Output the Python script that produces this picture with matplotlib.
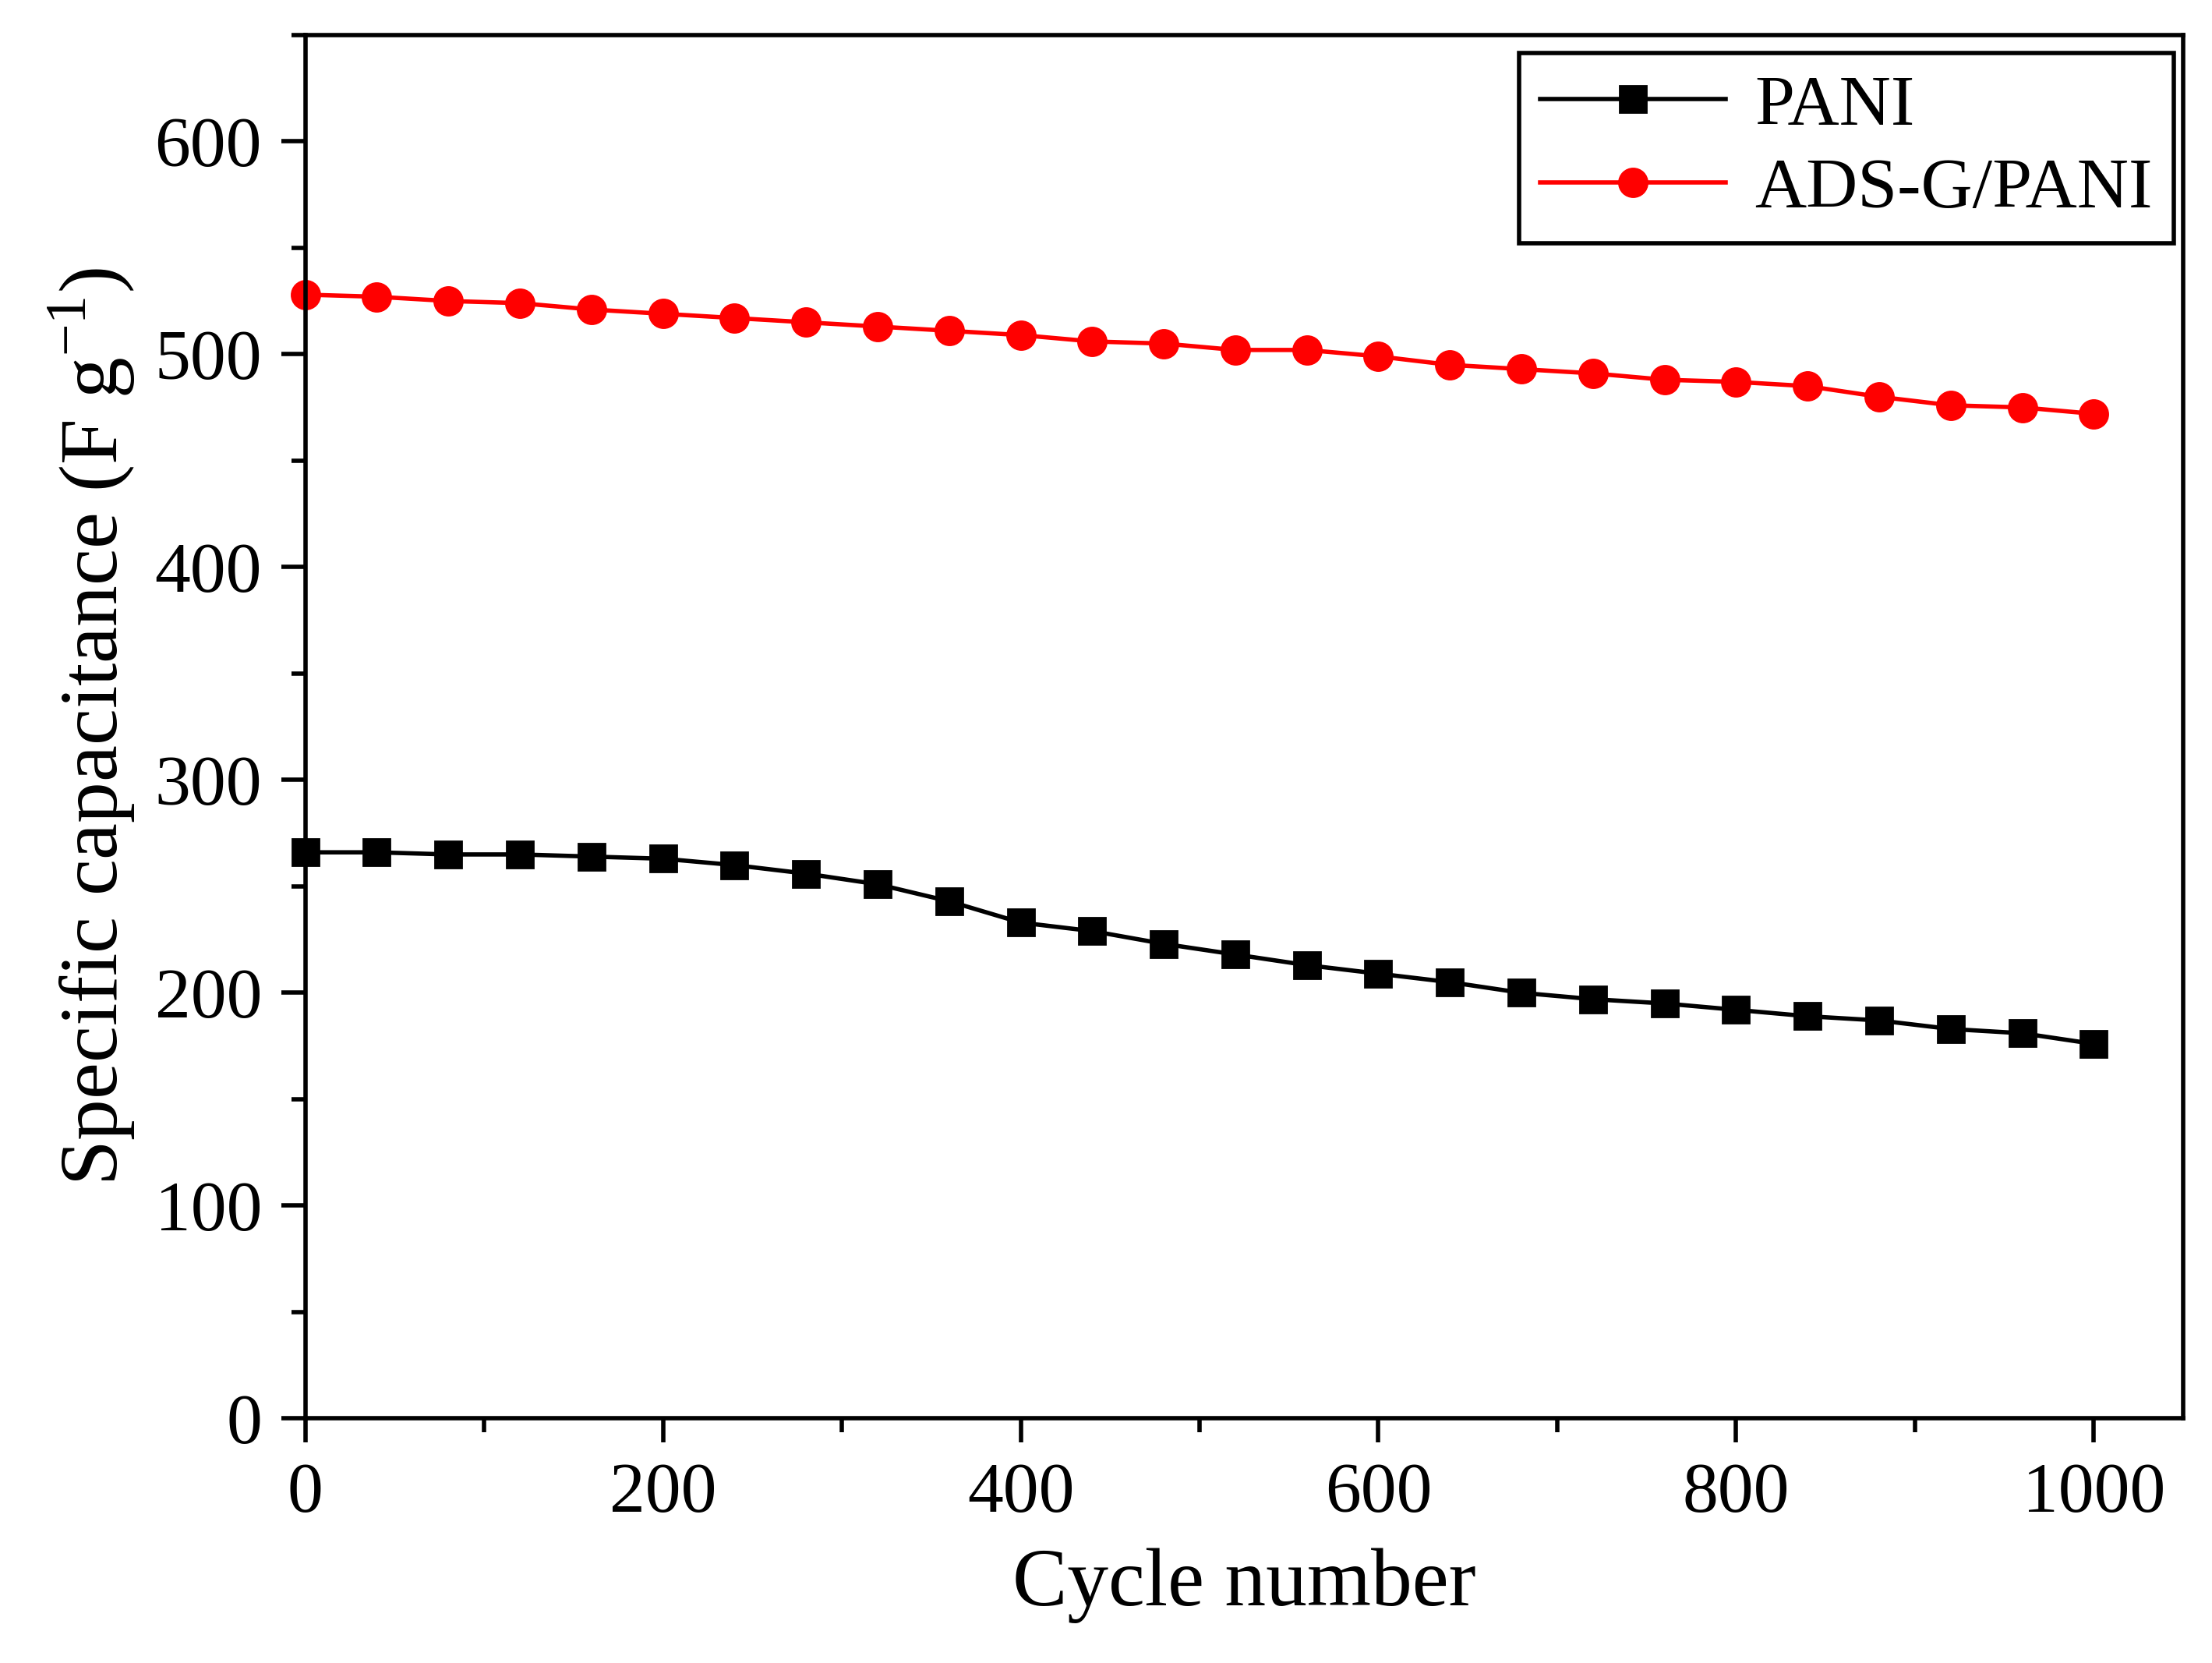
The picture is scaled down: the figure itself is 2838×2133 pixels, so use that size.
import matplotlib.pyplot as plt
import numpy as np
from matplotlib.ticker import MultipleLocator

plt.rcParams['font.family'] = ['Liberation Serif', 'DejaVu Serif']

cycles = np.arange(0, 1001, 40)
pani = [266, 266, 265, 265, 264, 263, 260, 256, 251, 243, 233, 229, 223,
        218, 213, 209, 205, 200, 197, 195, 192, 189, 187, 183, 181, 176]
ads_g_pani = [528, 527, 525, 524, 521, 519, 517, 515, 513, 511, 509, 506, 505,
              502, 502, 499, 495, 493, 491, 488, 487, 485, 480, 476, 475, 472]

fig = plt.figure(figsize=(14.19, 10.665), dpi=200)
ax = fig.add_axes([0.138, 0.147, 0.849, 0.832])

ax.plot(cycles, pani, color='black', marker='s', ms=12, lw=2, label='PANI', clip_on=False)
ax.plot(cycles, ads_g_pani, color='red', marker='o', ms=13, lw=2, label='ADS-G/PANI', clip_on=False)

ax.set_xlim(0, 1050)
ax.set_ylim(0, 650)
ax.xaxis.set_major_locator(MultipleLocator(200))
ax.xaxis.set_minor_locator(MultipleLocator(100))
ax.yaxis.set_major_locator(MultipleLocator(100))
ax.yaxis.set_minor_locator(MultipleLocator(50))
ax.tick_params(which='both', direction='out', width=2, labelsize=33,
               top=False, right=False)
ax.tick_params(which='major', length=11, pad=9)
ax.tick_params(which='minor', length=6.5)
for s in ax.spines.values():
    s.set_linewidth(2)

ax.set_xlabel('Cycle number', fontsize=38, labelpad=10)
ax.set_ylabel(r'Specific capacitance (F g$^{\mathregular{-1}}$)', fontsize=38, labelpad=8)

leg = ax.legend(loc='upper right', bbox_to_anchor=(0.995, 0.987), borderaxespad=0,
                fontsize=33, fancybox=False, edgecolor='black', framealpha=1,
                handlelength=2.6, handletextpad=0.4, labelspacing=0.25,
                borderpad=0.3)
leg.get_frame().set_linewidth(2)

fig.savefig('out.png', dpi=200)
